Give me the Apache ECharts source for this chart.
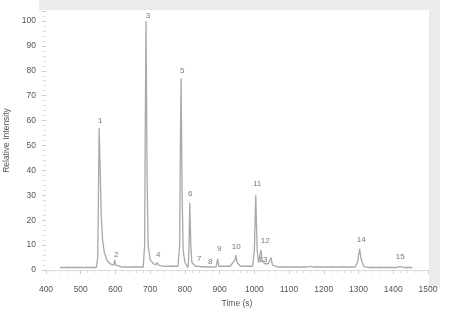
<!DOCTYPE html>
<html>
<head>
<meta charset="utf-8">
<script src="https://cdn.jsdelivr.net/npm/echarts@6/dist/echarts.min.js"></script>
<style>html,body{margin:0;padding:0;background:#fff}#c{width:451px;height:314px}</style>
</head>
<body>
<div id="c"></div>
<script>
// Chromatogram trace: [time (s), relative intensity]
var trace = [
[440,1],[545,1],[549,5],[551,30],[553,57],[556,40],[559,22],[563,12],[568,7],[575,4],[585,2.5],[595,2],[598,4],[601,2],[620,1.2],
[680,1.2],[684,10],[686,60],[688,100],[691,40],[694,10],[700,4],[710,2.5],[716,2],[720,3],[724,2],[740,1.5],
[780,1.5],[785,10],[787,50],[789,77],[792,30],[795,8],[800,3],[805,2],[808,1],[810,2],[812,10],[814,27],[817,10],[820,3],[830,1.5],
[840,1.5],[843,2],[846,1.3],[866,1.2],[869,2],[872,1.2],[890,1.3],[894,4.5],[898,1.5],[930,1.5],[944,4],[947,6],[950,3],[960,1.5],
[995,1.5],[1000,8],[1004,30],[1008,8],[1012,3],[1016,6],[1019,8],[1022,4],[1030,2.5],[1040,2.5],[1045,4],[1048,5],[1052,2],[1070,1.2],
[1150,1.2],[1160,1.5],[1170,1.2],[1290,1.2],[1297,3],[1303,8.5],[1308,4],[1315,1.5],[1330,1],[1410,1],[1420,1.5],[1430,1],[1455,1]
];
// Peak labels: [time, intensity, label]
var peakLabels = [
[556,60,'1'],[602,6,'2'],[694,102,'3'],[723,6,'4'],[792,80,'5'],[815,30.5,'6'],[841,4.4,'7'],[873,3.2,'8'],
[899,8.4,'9'],[948,9.2,'10'],[1008,34.5,'11'],[1031,11.6,'12'],[1025,4,'13'],[1308,12,'14'],[1420,5.2,'15']
];
var xTicks = {min:400, max:1500, interval:100};
var yTicks = {min:0, max:104, interval:10};

var chart = echarts.init(document.getElementById('c'), null, {renderer:'canvas'});
chart.setOption({
  animation:false,
  backgroundColor:'#fff',
  graphic:[
    {type:'rect', shape:{x:39,y:0,width:401,height:10}, style:{fill:'#ebebeb'}, z:-10},
    {type:'rect', shape:{x:429,y:0,width:11,height:288}, style:{fill:'#ebebeb'}, z:-10}
  ],
  grid:{left:46, right:23, top:11, bottom:44, containLabel:false, outerBoundsMode:'none'},
  xAxis:{
    type:'value', min:xTicks.min, max:xTicks.max, interval:xTicks.interval,
    offset:7,
    name:'Time (s)', nameLocation:'middle', nameGap:20,
    nameTextStyle:{color:'#555', fontSize:8.5, fontFamily:'Liberation Sans'},
    axisLine:{show:true, lineStyle:{color:'#ddd', width:1}},
    axisTick:{show:true, length:4, lineStyle:{color:'#ccc'}},
    minorTick:{show:true, splitNumber:5, length:3, lineStyle:{color:'#ddd'}},
    axisLabel:{color:'#555', fontSize:8.5, fontFamily:'Liberation Sans', margin:8,
               formatter:function(v){return String(v);}},
    splitLine:{show:false}
  },
  yAxis:{
    type:'value', min:yTicks.min, max:yTicks.max, interval:yTicks.interval,
    name:'Relative Intensity', nameLocation:'middle', nameGap:34,
    nameTextStyle:{color:'#555', fontSize:8.5, fontFamily:'Liberation Sans'},
    axisLine:{show:false},
    axisTick:{show:true, length:4, lineStyle:{color:'#ccc'}},
    minorTick:{show:true, splitNumber:5, length:3, lineStyle:{color:'#ddd'}},
    axisLabel:{color:'#555', fontSize:8.5, fontFamily:'Liberation Sans', margin:10, showMaxLabel:false,
               formatter:function(v){return v % 10 === 0 ? String(v) : '';}},
    splitLine:{show:false}
  },
  series:[
    {type:'line', data:trace, showSymbol:false, symbol:'none',
     lineStyle:{color:'#a9a9a9', width:1.3}, z:2},
    {type:'scatter', data:peakLabels.map(function(p){return [p[0],p[1],p[2]];}),
     symbolSize:0, silent:true, z:3,
     label:{show:true, position:'inside', formatter:function(d){return d.value[2];},
            color:'#555', fontSize:8, fontFamily:'Liberation Sans'}}
  ]
});
</script>
</body>
</html>
